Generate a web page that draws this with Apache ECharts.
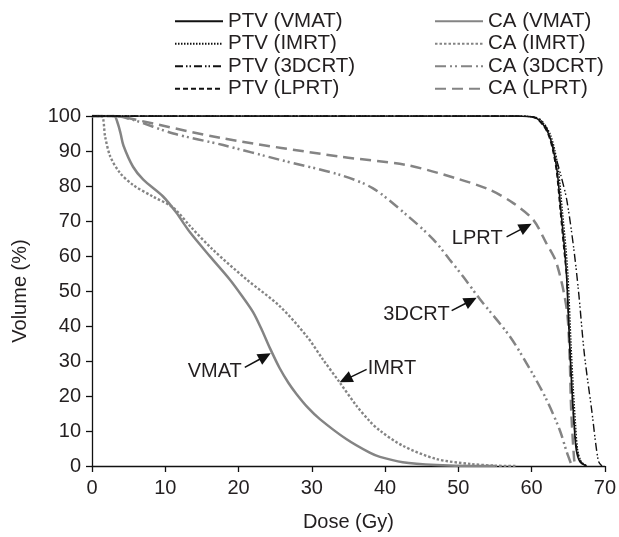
<!DOCTYPE html>
<html><head><meta charset="utf-8">
<script src="https://cdn.jsdelivr.net/npm/echarts@6/dist/echarts.min.js"></script>
<style>html,body{margin:0;padding:0;background:#fff}#c{width:619px;height:537px}</style>
</head><body><div id="c"></div>
<script>
// ---- data ----
const xTicks = [0,10,20,30,40,50,60,70];
const yTicks = [0,10,20,30,40,50,60,70,80,90,100];

const ptvVmatX = [0, 58, 60.5, 61.6, 62.4, 63, 63.5, 64, 64.5, 64.8, 65.2, 65.5, 65.8, 66.1, 66.6, 67.5];
const ptvVmatY = [100, 100, 99.5, 97.5, 94.5, 90, 84, 73, 62, 53.3, 34.3, 22, 12, 4.5, 1.2, 0];
const ptvImrtX = [0, 58, 60.7, 61.8, 62.6, 63.2, 63.7, 64.2, 64.7, 65, 65.4, 65.7, 66, 66.3, 66.8, 67.6];
const ptvImrtY = [100, 100, 99.5, 97.5, 94.5, 90, 84, 73, 62, 53.3, 34.3, 22, 12, 4.5, 1.2, 0];
const ptv3dX = [0, 58, 60.8, 61.8, 62.5, 63.2, 64, 64.8, 65.7, 66.4, 67.2, 68.2, 69.1, 69.6];
const ptv3dY = [100, 100, 99.5, 97.5, 94, 89, 83, 76, 63, 50, 32, 16, 1.5, 0];
const ptvLprtX = [0, 58, 60.4, 61.5, 62.3, 62.9, 63.4, 63.9, 64.4, 64.8, 65.2, 65.5, 65.8, 66.2, 66.7, 67.4];
const ptvLprtY = [100, 100, 99.5, 97.5, 94.5, 90, 84, 73, 62, 53.3, 34.3, 22, 12, 4.5, 1.2, 0];

const caVmatX = [0, 3, 3.5, 3.9, 4.3, 5.6, 7, 9.7, 11.5, 13.4, 16.1, 18.8, 20.5, 22, 23.2, 24.3, 25.6, 26.8, 27.9, 29.5, 31.1, 34.7, 37.9, 39.3, 42.4, 47, 52, 55];
const caVmatY = [100, 100, 98, 95, 91.5, 85.5, 81.8, 77, 72.4, 66.7, 59.9, 53.3, 48.5, 43.9, 38.8, 33.6, 28, 23.8, 20.6, 16.6, 13.4, 7.7, 3.8, 2.6, 1.1, 0.3, 0, 0];
const caImrtX = [0, 1.3, 1.8, 2.5, 3.8, 5.6, 8.3, 11.1, 13.4, 16.5, 21.1, 25.6, 29.3, 31.5, 33.8, 36.1, 37.9, 39.3, 42.4, 47, 51.6, 55, 58];
const caImrtY = [100, 100, 94, 88.4, 83.8, 80.3, 77, 73.8, 68.5, 61.8, 53.3, 45.7, 37.1, 30.5, 23.9, 17.2, 12.8, 10.1, 5.8, 2, 0.6, 0.1, 0];
const ca3dX = [0, 3, 5.6, 11.1, 17.9, 25.6, 33.8, 38.3, 42.9, 46.6, 48.8, 50.7, 52.9, 57, 59.8, 62, 63.8, 64.8, 65.5];
const ca3dY = [100, 100, 98.9, 95, 91.7, 87.5, 83.2, 79.4, 71.8, 64.7, 59, 54, 47.8, 37.1, 27.6, 19.1, 10.5, 4, 0];
const caLprtX = [0, 3, 4.7, 17.9, 33.8, 42.9, 49.7, 54.3, 57.5, 60.2, 62, 63.4, 64.8, 65.2, 65.4, 65.8, 66];
const caLprtY = [100, 100, 99.5, 93.6, 88.4, 86, 82.2, 78.9, 75.1, 70.4, 63.7, 58, 44.7, 30.5, 16.2, 2, 0];

const ptvNames = ['PTV (VMAT)', 'PTV (IMRT)', 'PTV (3DCRT)', 'PTV (LPRT)'];
const caNames = ['CA (VMAT)', 'CA (IMRT)', 'CA (3DCRT)', 'CA (LPRT)'];

const annLabels = ['VMAT', 'IMRT', '3DCRT', 'LPRT'];
const annTipX = [24.4, 33.8, 52.5, 60.0];
const annTipY = [32.2, 23.9, 48.1, 69.2];

// ---- chart ----
const FONT = 'Liberation Sans, Arial, sans-serif';
const TXT = '#231f20';
const GRAY = '#848484';
const pairs = (xs, ys) => xs.map((x, i) => [x, ys[i]]);

function mk(name, xs, ys, color, width, dash, z) {
  return {
    name, type: 'line', data: pairs(xs, ys), symbol: 'none', showSymbol: false, smooth: 0.3, z,
    lineStyle: { color, width, type: dash },
    itemStyle: { color },
    emphasis: { disabled: true }, animation: false
  };
}

const chart = echarts.init(document.getElementById('c'), null, { renderer: 'canvas' });

const series = [
  mk(caNames[0], caVmatX, caVmatY, GRAY, 2.5, 'solid', 2),
  mk(caNames[1], caImrtX, caImrtY, GRAY, 2.4, [2.5, 2], 2),
  mk(caNames[2], ca3dX, ca3dY, GRAY, 2.5, [11, 4, 2, 3, 2, 4], 2),
  mk(caNames[3], caLprtX, caLprtY, GRAY, 2.5, [11, 6], 2),
  mk(ptvNames[0], ptvVmatX, ptvVmatY, '#111', 1.6, 'solid', 3),
  mk(ptvNames[1], ptvImrtX, ptvImrtY, '#111', 1.3, [1.5, 1.5], 3),
  mk(ptvNames[2], ptv3dX, ptv3dY, '#111', 1.4, [8, 3, 1.5, 2, 1.5, 3], 3),
  mk(ptvNames[3], ptvLprtX, ptvLprtY, '#111', 1.4, [5, 3], 3)
];

const legendBase = {
  orient: 'vertical', top: 10, padding: 0, itemWidth: 48, itemHeight: 14, itemGap: 0,
  selectedMode: false,
  itemStyle: { opacity: 0 },
  textStyle: { fontFamily: FONT, fontSize: 20.5, color: TXT, lineHeight: 22.5 }
};

chart.setOption({
  backgroundColor: '#fff',
  animation: false,
  textStyle: { fontFamily: FONT },
  grid: { left: 92, right: 14, top: 116, bottom: 70, containLabel: false },
  legend: [
    Object.assign({}, legendBase, { left: 174, data: ptvNames }),
    Object.assign({}, legendBase, { left: 434, data: caNames })
  ],
  xAxis: {
    type: 'value', min: xTicks[0], max: xTicks[xTicks.length - 1], interval: 10,
    name: 'Dose (Gy)', nameLocation: 'middle', nameGap: 46,
    nameTextStyle: { fontFamily: FONT, fontSize: 20, color: TXT },
    axisLine: { lineStyle: { color: '#111', width: 1.3 } },
    axisTick: { show: true, inside: false, length: 6, lineStyle: { color: '#111', width: 1.3 } },
    axisLabel: { fontFamily: FONT, fontSize: 20, color: TXT, margin: 12 },
    splitLine: { show: false }
  },
  yAxis: {
    type: 'value', min: yTicks[0], max: yTicks[yTicks.length - 1], interval: 10,
    name: 'Volume (%)', nameLocation: 'middle', nameGap: 62,
    nameTextStyle: { fontFamily: FONT, fontSize: 20, color: TXT },
    axisLine: { show: true, lineStyle: { color: '#111', width: 1.3 } },
    axisTick: { show: true, inside: false, length: 6, lineStyle: { color: '#111', width: 1.3 } },
    axisLabel: { fontFamily: FONT, fontSize: 20, color: TXT, margin: 11 },
    splitLine: { show: false }
  },
  series
});

// ---- annotations with arrows, placed from data coordinates ----
const tails = [[-26, 14], [27, -13], [-25, 13], [-25, 13]];
const textPos = [[-3, 4, 'right'], [1, -1, 'left'], [-2, 4, 'right'], [-4, 2, 'right']];
const graphics = [];
annLabels.forEach((lab, i) => {
  const tip = chart.convertToPixel({ gridIndex: 0 }, [annTipX[i], annTipY[i]]);
  const tail = [tip[0] + tails[i][0], tip[1] + tails[i][1]];
  const dx = tip[0] - tail[0], dy = tip[1] - tail[1];
  const L = Math.sqrt(dx * dx + dy * dy);
  const ux = dx / L, uy = dy / L, px = -uy, py = ux;
  const hl = 13, hw = 6;
  const base = [tip[0] - ux * hl, tip[1] - uy * hl];
  graphics.push({
    type: 'line', silent: true, z: 10,
    shape: { x1: tail[0], y1: tail[1], x2: base[0] + ux * 2, y2: base[1] + uy * 2 },
    style: { stroke: '#111', lineWidth: 1.5 }
  });
  graphics.push({
    type: 'polygon', silent: true, z: 10,
    shape: { points: [tip, [base[0] + px * hw, base[1] + py * hw], [base[0] - px * hw, base[1] - py * hw]] },
    style: { fill: '#111' }
  });
  graphics.push({
    type: 'text', silent: true, z: 10,
    x: tail[0] + textPos[i][0], y: tail[1] + textPos[i][1],
    style: { text: lab, fontFamily: FONT, fontSize: 20, fill: TXT, align: textPos[i][2], verticalAlign: 'middle' }
  });
});
chart.setOption({ graphic: graphics });
</script>
</body></html>
